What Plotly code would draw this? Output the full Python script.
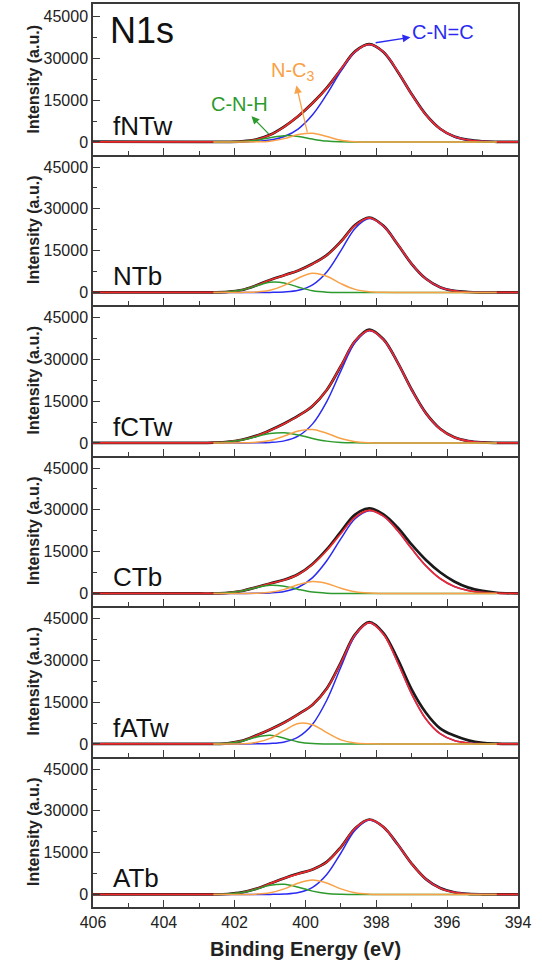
import plotly.graph_objects as go
from plotly.subplots import make_subplots

# ---------------- data ----------------
samples = ["fNTw", "NTb", "fCTw", "CTb", "fATw", "ATb"]

# binding-energy grid for the components (eV)
energy = [402.6, 402.2, 401.8, 401.4, 401.0, 400.6, 400.2, 399.8, 399.4, 399.0, 398.6,
          398.2, 397.8, 397.4, 397.0, 396.6, 396.2, 395.8, 395.4, 395.0, 394.6]
# grid for fit and raw envelope (adds flat ends)
energy_full = [406.0, 403.0] + energy + [394.0]

# C-N=C component (blue)
cnc = {
    "fNTw": [0, 10, 50, 210, 700, 1960, 4730, 9730, 17050, 25400, 32300, 35000, 32300, 25400, 17050, 9730, 4730, 1960, 700, 210, 50],
    "NTb":  [0, 0, 0, 3, 25, 160, 760, 2730, 7360, 15000, 22980, 26500, 23800, 17360, 10230, 4880, 1880, 590, 150, 30, 5],
    "fCTw": [0, 0, 5, 34, 177, 750, 2530, 6850, 14870, 25870, 36070, 40300, 37080, 28890, 19030, 10630, 5020, 2010, 680, 195, 47],
    "CTb":  [0, 1, 7, 40, 188, 721, 2245, 5690, 11720, 19650, 26790, 29700, 27730, 22580, 16020, 9910, 5350, 2520, 1030, 368, 115],
    "fATw": [0, 0, 4, 31, 168, 735, 2560, 7090, 15680, 27630, 38840, 43500, 39410, 29310, 17880, 8960, 3690, 1240, 344, 78, 15],
    "ATb":  [0, 0, 0, 2, 21, 139, 692, 2580, 7170, 14880, 23070, 26700, 24190, 18000, 10970, 5500, 2260, 764, 211, 48, 9],
}
# N-C3 component (orange)
nc3 = {
    "fNTw": [0, 0, 2, 35, 285, 1200, 2670, 3140, 1940, 630, 110, 10, 0, 0, 0, 0, 0, 0, 0, 0, 0],
    "NTb":  [0, 2, 20, 157, 790, 2530, 5210, 6880, 5820, 3160, 1100, 245, 35, 3, 0, 0, 0, 0, 0, 0, 0],
    "fCTw": [0, 3, 33, 215, 913, 2480, 4320, 4830, 3460, 1590, 470, 89, 11, 1, 0, 0, 0, 0, 0, 0, 0],
    "CTb":  [0, 1, 8, 75, 421, 1470, 3182, 4283, 3585, 1863, 601, 121, 15, 1, 0, 0, 0, 0, 0, 0, 0],
    "fATw": [0, 8, 80, 506, 1987, 4849, 7350, 6926, 4056, 1477, 334, 47, 4, 0, 0, 0, 0, 0, 0, 0, 0],
    "ATb":  [0, 1, 14, 116, 612, 2009, 4099, 5200, 4099, 2009, 612, 116, 14, 1, 0, 0, 0, 0, 0, 0, 0],
}
# C-N-H component (green)
cnh = {
    "fNTw": [0, 20, 140, 600, 1520, 2260, 1980, 1030, 310, 55, 6, 0, 0, 0, 0, 0, 0, 0, 0, 0, 0],
    "NTb":  [24, 187, 857, 2300, 3660, 3430, 1890, 615, 118, 13, 1, 0, 0, 0, 0, 0, 0, 0, 0, 0, 0],
    "fCTw": [93, 373, 1076, 2245, 3375, 3660, 2867, 1618, 660, 194, 41, 6, 1, 0, 0, 0, 0, 0, 0, 0, 0],
    "CTb":  [41, 243, 900, 2069, 2956, 2624, 1449, 497, 106, 14, 1, 0, 0, 0, 0, 0, 0, 0, 0, 0, 0],
    "fATw": [25, 220, 1007, 2427, 3085, 2068, 731, 136, 13, 1, 0, 0, 0, 0, 0, 0, 0, 0, 0, 0, 0],
    "ATb":  [25, 162, 690, 1872, 3265, 3649, 2614, 1201, 354, 67, 8, 1, 0, 0, 0, 0, 0, 0, 0, 0, 0],
}
# envelope fit (red), on energy_full
fit = {
    "fNTw": [0, 0, 0, 30, 190, 845, 2505, 5420, 9380, 13900, 19300, 26085, 32416, 35010, 32300, 25400, 17050, 9730, 4730, 1960, 700, 210, 50, 0],
    "NTb":  [0, 0, 24, 189, 877, 2460, 4475, 6120, 7860, 10225, 13298, 18173, 24081, 26745, 23835, 17363, 10230, 4880, 1880, 590, 150, 30, 5, 0],
    "fCTw": [0, 0, 93, 376, 1114, 2494, 4465, 6890, 9717, 13298, 18990, 27654, 36581, 40395, 37092, 28891, 19030, 10630, 5020, 2010, 680, 195, 47, 0],
    "CTb":  [0, 0, 41, 245, 915, 2184, 3565, 4815, 6876, 10470, 15411, 21527, 27392, 29821, 27745, 22581, 16020, 9910, 5350, 2520, 1030, 368, 115, 0],
    "fATw": [0, 0, 25, 228, 1091, 2964, 5240, 7652, 10641, 14152, 19749, 29108, 39174, 43547, 39414, 29310, 17880, 8960, 3690, 1240, 344, 78, 15, 0],
    "ATb":  [0, 0, 25, 163, 704, 1990, 3898, 5797, 7405, 8981, 11623, 16956, 23690, 26817, 24204, 18001, 10970, 5500, 2260, 764, 211, 48, 9, 0],
}
# measured spectrum (black), on energy_full
raw = {
    "fNTw": [100, 0, 0, 40, 210, 860, 2550, 5500, 9300, 13950, 19400, 26000, 32500, 35100, 32250, 25300, 17100, 9800, 4750, 1950, 720, 220, 60, 0],
    "NTb":  [0, 50, 30, 200, 900, 2500, 4500, 6200, 7900, 10300, 13400, 18300, 24200, 26900, 23900, 17300, 10200, 4900, 1900, 600, 160, 40, 10, 0],
    "fCTw": [0, 0, 100, 380, 1150, 2550, 4600, 7000, 9800, 13300, 19000, 27600, 36500, 40700, 37200, 28900, 19100, 10700, 5100, 2050, 700, 200, 50, 0],
    "CTb":  [0, 0, 0, 200, 900, 2200, 3600, 4900, 7000, 10600, 15800, 22200, 28300, 30500, 28400, 23700, 17500, 12000, 7600, 4300, 2100, 900, 250, 0],
    "fATw": [0, 0, 25, 230, 1100, 3000, 5200, 7700, 10700, 14100, 19900, 29300, 39300, 43700, 39800, 30500, 19500, 11200, 5600, 3000, 1300, 400, 100, 0],
    "ATb":  [0, 0, 30, 170, 720, 2000, 3900, 5850, 7500, 9000, 11700, 17000, 23700, 26900, 24200, 18000, 11000, 5500, 2300, 780, 220, 50, 10, 0],
}

y_ticks = [0, 15000, 30000, 45000]
y_tick_text = ["0", "15000", "30000", "45000"]
x_ticks = [406, 404, 402, 400, 398, 396, 394]
x_tick_text = ["406", "404", "402", "400", "398", "396", "394"]

# ---------------- style ----------------
FONT = "Liberation Sans, Arial, Helvetica, sans-serif"
C_BLACK = "#1a1a1a"
C_RED = "#f02a2a"
C_BLUE = "#2a2af2"
C_ORANGE = "#f8a146"
C_GREEN = "#2c9a2c"
FRAME = "#3a3a3a"

fig = make_subplots(rows=6, cols=1, shared_xaxes=True, vertical_spacing=0)

for i, s in enumerate(samples):
    r = i + 1
    fig.add_trace(go.Scatter(x=energy_full, y=raw[s], mode="lines",
                             line=dict(color=C_BLACK, width=2.7, shape="spline", smoothing=1.0),
                             showlegend=False), row=r, col=1)
    fig.add_trace(go.Scatter(x=energy, y=cnc[s], mode="lines",
                             line=dict(color=C_BLUE, width=1.5, shape="spline", smoothing=1.0),
                             showlegend=False), row=r, col=1)
    fig.add_trace(go.Scatter(x=energy_full, y=fit[s], mode="lines",
                             line=dict(color=C_RED, width=1.7, shape="spline", smoothing=1.0),
                             showlegend=False), row=r, col=1)
    fig.add_trace(go.Scatter(x=energy, y=cnh[s], mode="lines",
                             line=dict(color=C_GREEN, width=1.5, shape="spline", smoothing=1.0),
                             showlegend=False), row=r, col=1)
    fig.add_trace(go.Scatter(x=energy, y=nc3[s], mode="lines",
                             line=dict(color=C_ORANGE, width=1.5, shape="spline", smoothing=1.0),
                             showlegend=False), row=r, col=1)

    yref = "y" if r == 1 else f"y{r}"
    xref = "x" if r == 1 else f"x{r}"
    fig.add_annotation(text=s, xref=f"{xref} domain", yref=f"{yref} domain",
                       x=0.043, y=0.19, xanchor="left", yanchor="middle", showarrow=False,
                       font=dict(family=FONT, size=26, color="#111"))

    fig.update_yaxes(row=r, col=1, range=[-4500, 49500],
                     tickmode="array", tickvals=y_ticks, ticktext=y_tick_text,
                     ticks="inside", ticklen=7, tickwidth=1.3, tickcolor=FRAME,
                     minor=dict(dtick=7500, tick0=0, ticks="inside", ticklen=4,
                                tickwidth=1.2, tickcolor=FRAME),
                     showline=True, linecolor=FRAME, linewidth=1.5, mirror=True,
                     showgrid=False, zeroline=False,
                     tickfont=dict(family=FONT, size=16, color="#222"),
                     title=dict(text="<b>Intensity (a.u.)</b>", standoff=0,
                                font=dict(family=FONT, size=16, color="#222")))
    fig.update_xaxes(row=r, col=1, range=[406, 394],
                     tickmode="array", tickvals=x_ticks, ticktext=x_tick_text,
                     ticks="inside", ticklen=7, tickwidth=1.3, tickcolor=FRAME,
                     minor=dict(dtick=1, tick0=394, ticks="inside", ticklen=4,
                                tickwidth=1.2, tickcolor=FRAME),
                     showline=True, linecolor=FRAME, linewidth=1.5,
                     mirror=(r == 1),
                     showgrid=False, zeroline=False,
                     showticklabels=(r == 6),
                     tickfont=dict(family=FONT, size=16, color="#222"))

fig.update_xaxes(row=6, col=1,
                 title=dict(text="<b>Binding Energy (eV)</b>", standoff=12,
                            font=dict(family=FONT, size=20, color="#222")))

# panel-1 labels
fig.add_annotation(text="N1s", xref="x domain", yref="y domain", x=0.036, y=0.823,
                   xanchor="left", yanchor="middle", showarrow=False,
                   font=dict(family=FONT, size=36, color="#111"))
# arrow label annotations: text at (ax, ay), arrow head drawn at the text side
fig.add_annotation(text="C-N=C", xref="x", yref="y", x=398.02, y=35600,
                   axref="x", ayref="y", ax=396.12, ay=39400,
                   showarrow=True, arrowside="start", arrowhead=2, arrowsize=1.2,
                   arrowwidth=1.3, arrowcolor=C_BLUE, startarrowhead=2, startarrowsize=1.2,
                   font=dict(family=FONT, size=20, color=C_BLUE))
fig.add_annotation(text="N-C<sub>3</sub>", xref="x", yref="y", x=399.95, y=3500,
                   axref="x", ayref="y", ax=400.35, ay=25300,
                   showarrow=True, arrowside="start", arrowhead=2, arrowsize=1.2,
                   arrowwidth=1.3, arrowcolor=C_ORANGE, startarrowhead=2, startarrowsize=1.2,
                   font=dict(family=FONT, size=20, color=C_ORANGE))
fig.add_annotation(text="C-N-H", xref="x", yref="y", x=401.04, y=2900,
                   axref="x", ayref="y", ax=401.87, ay=13700,
                   showarrow=True, arrowside="start", arrowhead=2, arrowsize=1.2,
                   arrowwidth=1.3, arrowcolor=C_GREEN, startarrowhead=2, startarrowsize=1.2,
                   font=dict(family=FONT, size=20, color=C_GREEN))

fig.update_layout(width=542, height=969,
                  margin=dict(l=93, r=24, t=4, b=62),
                  paper_bgcolor="white", plot_bgcolor="white",
                  font=dict(family=FONT), showlegend=False)

fig.write_html("out.html")
